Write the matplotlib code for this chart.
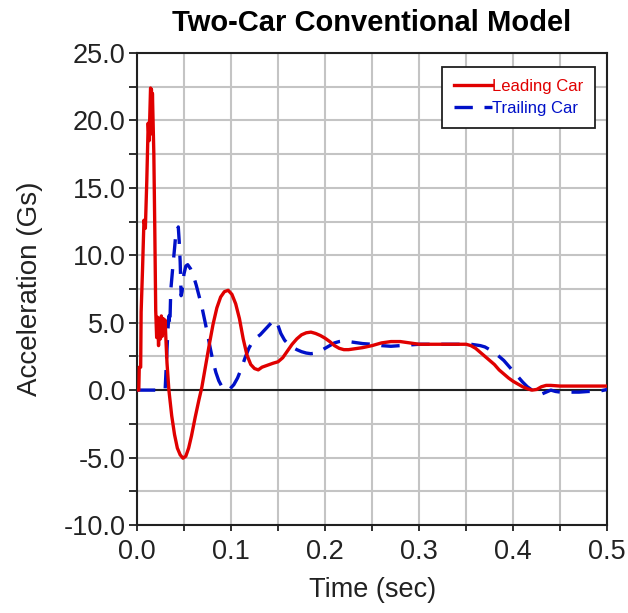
import matplotlib
matplotlib.use('Agg')
import matplotlib.pyplot as plt
from matplotlib.ticker import MultipleLocator, FormatStrFormatter

plt.rcParams['font.family'] = ['Liberation Sans', 'DejaVu Sans']

# ----- data (time in sec, acceleration in Gs)
lead_time = [0.0, 0.002, 0.0025, 0.004, 0.0045, 0.006, 0.0075, 0.009, 0.0105, 0.012, 0.013,
             0.0145, 0.0155, 0.016, 0.0165, 0.018, 0.019, 0.020, 0.021, 0.022, 0.023, 0.024,
             0.025, 0.026, 0.027, 0.028, 0.029, 0.030, 0.031, 0.032, 0.034, 0.037, 0.040,
             0.043, 0.046, 0.049, 0.052, 0.055, 0.058, 0.062, 0.066, 0.069, 0.073, 0.077,
             0.081, 0.085, 0.089, 0.093, 0.097, 0.101, 0.105, 0.109, 0.113, 0.117, 0.121,
             0.125, 0.129, 0.133, 0.137, 0.141, 0.145, 0.150, 0.155, 0.160, 0.165, 0.170,
             0.175, 0.180, 0.185, 0.190, 0.195, 0.200, 0.205, 0.210, 0.215, 0.220, 0.225,
             0.230, 0.240, 0.250, 0.260, 0.270, 0.280, 0.290, 0.300, 0.310, 0.320, 0.330,
             0.340, 0.350, 0.355, 0.360, 0.365, 0.370, 0.375, 0.380, 0.385, 0.390, 0.395,
             0.400, 0.405, 0.410, 0.415, 0.420, 0.425, 0.430, 0.435, 0.440, 0.450, 0.460,
             0.470, 0.480, 0.490, 0.500]
lead_accel = [0.0, 0.0, 1.7, 1.7, 5.8, 9.0, 12.6, 12.0, 15.5, 19.8, 18.5,
              22.4, 22.3, 19.0, 22.0, 17.5, 12.0, 5.9, 3.9, 5.4, 3.3, 5.3,
              3.8, 5.5, 4.0, 5.3, 4.8, 5.2, 3.5, 2.0, 0.0, -1.9, -3.3,
              -4.3, -4.8, -5.05, -4.9, -4.3, -3.4, -2.0, -0.7, 0.2, 1.8, 3.4,
              4.9, 6.1, 6.9, 7.3, 7.4, 7.1, 6.4, 5.3, 3.8, 2.6, 1.9,
              1.6, 1.5, 1.7, 1.8, 1.9, 2.0, 2.1, 2.4, 2.9, 3.4, 3.8,
              4.1, 4.25, 4.3, 4.2, 4.05, 3.85, 3.6, 3.3, 3.1, 3.0, 3.0,
              3.05, 3.15, 3.3, 3.5, 3.6, 3.6, 3.5, 3.4, 3.4, 3.4, 3.4,
              3.4, 3.4, 3.3, 3.1, 2.8, 2.5, 2.2, 1.9, 1.5, 1.2, 0.9,
              0.65, 0.45, 0.25, 0.1, 0.0, 0.05, 0.25, 0.35, 0.35, 0.3, 0.3,
              0.3, 0.3, 0.3, 0.3]

trail_time = [0.0, 0.030, 0.031, 0.033, 0.034, 0.035, 0.036, 0.038, 0.040, 0.041, 0.043,
              0.044, 0.045, 0.046, 0.047, 0.048, 0.050, 0.052, 0.054, 0.057, 0.060, 0.063,
              0.066, 0.069, 0.072, 0.075, 0.078, 0.081, 0.084, 0.087, 0.090, 0.093, 0.096,
              0.099, 0.103, 0.107, 0.111, 0.115, 0.119, 0.123, 0.127, 0.131, 0.135, 0.139,
              0.143, 0.147, 0.150, 0.153, 0.157, 0.161, 0.165, 0.170, 0.175, 0.180, 0.185,
              0.190, 0.195, 0.200, 0.205, 0.210, 0.215, 0.220, 0.225, 0.230, 0.240, 0.250,
              0.260, 0.270, 0.280, 0.290, 0.300, 0.320, 0.340, 0.355, 0.360, 0.365, 0.370,
              0.375, 0.380, 0.385, 0.390, 0.395, 0.400, 0.405, 0.410, 0.415, 0.420, 0.425,
              0.430, 0.435, 0.440, 0.445, 0.450, 0.460, 0.470, 0.480, 0.490, 0.500]
trail_accel = [0.0, 0.0, 1.5, 4.5, 5.5, 4.8, 7.4, 9.0, 10.5, 11.3, 11.5,
               12.1, 11.0, 9.5, 7.0, 7.3, 8.6, 9.2, 9.3, 9.0, 8.5, 7.8,
               7.0, 6.2, 5.2, 4.2, 3.1, 2.1, 1.3, 0.7, 0.3, 0.05, 0.0,
               0.1, 0.4, 0.9, 1.6, 2.4, 3.1, 3.6, 3.9, 4.1, 4.4, 4.7,
               5.0, 5.2, 4.8, 4.2, 3.7, 3.4, 3.2, 3.0, 2.85, 2.75, 2.7,
               2.75, 2.9, 3.1, 3.3, 3.5, 3.6, 3.65, 3.6, 3.55, 3.45, 3.4,
               3.3, 3.25, 3.3, 3.35, 3.4, 3.4, 3.4, 3.4, 3.35, 3.3, 3.2,
               3.0, 2.8, 2.5, 2.2, 1.8, 1.4, 1.0, 0.6, 0.25, 0.0, -0.25,
               -0.3, -0.15, 0.0, -0.1, -0.15, -0.15, -0.15, -0.1, -0.1, 0.05]

series_names = ['Leading Car', 'Trailing Car']
series_colours = ['#e00000', '#0010c8']

fig = plt.figure(figsize=(6.28, 6.13), dpi=100)
ax = fig.add_axes([0.218, 0.1436, 0.749, 0.770])

# grid every 0.05 sec / 2.5 Gs
ax.set_axisbelow(True)
ax.grid(which='both', color='#c4c4c4', linewidth=1.5)

# zero line
ax.axhline(0, color='#202020', linewidth=1.5, zorder=1.5)

ax.plot(trail_time, trail_accel, color=series_colours[1], linewidth=2.4,
        linestyle=(0, (5.5, 3.5)), label=series_names[1], zorder=3)
ax.plot(lead_time, lead_accel, color=series_colours[0], linewidth=2.4,
        label=series_names[0], zorder=4)

ax.set_xlim(0, 0.5)
ax.set_ylim(-10, 25)
ax.xaxis.set_major_locator(MultipleLocator(0.1))
ax.xaxis.set_minor_locator(MultipleLocator(0.05))
ax.yaxis.set_major_locator(MultipleLocator(5))
ax.yaxis.set_minor_locator(MultipleLocator(2.5))
ax.xaxis.set_major_formatter(FormatStrFormatter('%.1f'))
ax.yaxis.set_major_formatter(FormatStrFormatter('%.1f'))
ax.tick_params(which='both', direction='out', width=1.3, color='#202020')
ax.tick_params(axis='y', which='both', length=6)
ax.tick_params(axis='x', which='both', length=4)
ax.tick_params(axis='y', which='major', labelsize=19.5, labelcolor='#222222', pad=2)
ax.tick_params(axis='x', which='major', labelsize=19.5, labelcolor='#222222', pad=6)

for spine in ax.spines.values():
    spine.set_linewidth(1.5)
    spine.set_color('#202020')

ax.set_xlabel('Time (sec)', fontsize=19.5, color='#222222', labelpad=9)
ax.set_ylabel('Acceleration (Gs)', fontsize=20, color='#222222', labelpad=15)
ax.set_title('Two-Car Conventional Model', fontsize=21, fontweight='bold', pad=16)

handles, labels = ax.get_legend_handles_labels()
order = [1, 0]
leg = ax.legend([handles[i] for i in order], [labels[i] for i in order],
                loc='upper right', bbox_to_anchor=(0.974, 0.970), borderaxespad=0,
                fontsize=12, fancybox=False, framealpha=1, edgecolor='#202020',
                handlelength=2.3, handletextpad=0.0, borderpad=0.7, labelspacing=0.45)
leg.get_frame().set_linewidth(1.3)
for text, colour in zip(leg.get_texts(), series_colours):
    text.set_color(colour)

fig.savefig('out.png', dpi=100)
